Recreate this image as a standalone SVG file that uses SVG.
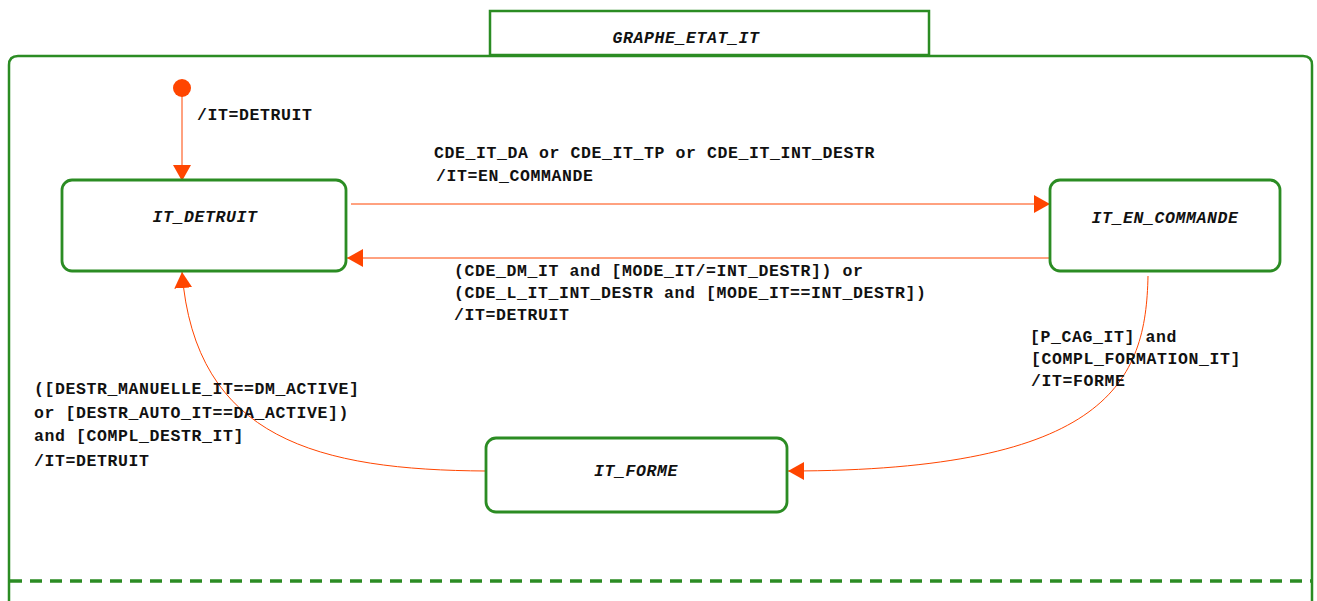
<svg xmlns="http://www.w3.org/2000/svg" width="1317" height="601" viewBox="0 0 1317 601">
  <style>
    .frame { fill: none; stroke: #2b8c23; stroke-width: 2.5; }
    .state { fill: #ffffff; stroke: #2b8c23; stroke-width: 2.8; }
    .name { font-family: "Liberation Mono", "Courier New", monospace; font-weight: bold; font-style: italic; font-size: 16.5px; letter-spacing: 0.6px; fill: #111111; text-anchor: middle; }
    .lbl { font-family: "Liberation Mono", "Courier New", monospace; font-weight: bold; font-size: 16.5px; letter-spacing: 0.6px; fill: #111111; }
    .edge { fill: none; stroke: #ff4500; stroke-width: 1; }
  </style>
  <defs>
    <marker id="head" viewBox="0 0 16 18" refX="16" refY="9" markerWidth="16" markerHeight="18" markerUnits="userSpaceOnUse" orient="auto">
      <path d="M0,0 L16,9 L0,18 Z" fill="#ff4500"/>
    </marker>
  </defs>

  <rect width="1317" height="601" fill="#ffffff"/>

  <!-- outer state machine frame -->
  <g id="frame">
    <path class="frame" d="M9,620 L9,65 Q9,56 18,56 L1303,56 Q1312,56 1312,65 L1312,620"/>
    <line x1="10" y1="581" x2="1311" y2="581" stroke="#2b8c23" stroke-width="3.3" stroke-dasharray="12 8"/>
  </g>

  <g id="title">
    <rect x="490" y="11" width="439" height="44" fill="#ffffff" stroke="#2b8c23" stroke-width="2.5"/>
    <text class="name" x="686" y="43">GRAPHE_ETAT_IT</text>
  </g>

  <!-- transitions -->
  <g id="connectors">
    <line class="edge" x1="182" y1="96" x2="182" y2="181" marker-end="url(#head)"/>
    <line class="edge" x1="351" y1="204" x2="1050" y2="204" marker-end="url(#head)"/>
    <line class="edge" x1="1049" y1="258" x2="347" y2="258" marker-end="url(#head)"/>
    <path class="edge" d="M1148,276 C1146,380 1110,471 788,471" marker-end="url(#head)"/>
    <path class="edge" d="M486,471 C320,470 195,440 182,272" marker-end="url(#head)"/>
  </g>

  <g id="init">
    <circle cx="182" cy="88" r="9" fill="#ff4500"/>
  </g>

  <g id="it_detruit">
    <rect class="state" x="62" y="180" width="284" height="91" rx="10"/>
    <text class="name" x="205" y="222">IT_DETRUIT</text>
  </g>

  <g id="it_en_commande">
    <rect class="state" x="1050" y="180" width="230" height="91" rx="10"/>
    <text class="name" x="1165" y="223">IT_EN_COMMANDE</text>
  </g>

  <g id="it_forme">
    <rect class="state" x="486" y="438" width="301" height="74" rx="10"/>
    <text class="name" x="636" y="476">IT_FORME</text>
  </g>

  <!-- transition labels -->
  <g id="labels">
    <text class="lbl" x="197" y="120">/IT=DETRUIT</text>
    <text class="lbl" x="434" y="158">CDE_IT_DA or CDE_IT_TP or CDE_IT_INT_DESTR</text>
    <text class="lbl" x="436" y="181">/IT=EN_COMMANDE</text>
    <text class="lbl" x="454" y="276">(CDE_DM_IT and [MODE_IT/=INT_DESTR]) or</text>
    <text class="lbl" x="454" y="298">(CDE_L_IT_INT_DESTR and [MODE_IT==INT_DESTR])</text>
    <text class="lbl" x="454" y="320">/IT=DETRUIT</text>
    <text class="lbl" x="1030" y="342">[P_CAG_IT] and</text>
    <text class="lbl" x="1031" y="364">[COMPL_FORMATION_IT]</text>
    <text class="lbl" x="1031" y="386">/IT=FORME</text>
    <text class="lbl" x="34" y="394">([DESTR_MANUELLE_IT==DM_ACTIVE]</text>
    <text class="lbl" x="34" y="418">or [DESTR_AUTO_IT==DA_ACTIVE])</text>
    <text class="lbl" x="34" y="441">and [COMPL_DESTR_IT]</text>
    <text class="lbl" x="34" y="466">/IT=DETRUIT</text>
  </g>
</svg>
